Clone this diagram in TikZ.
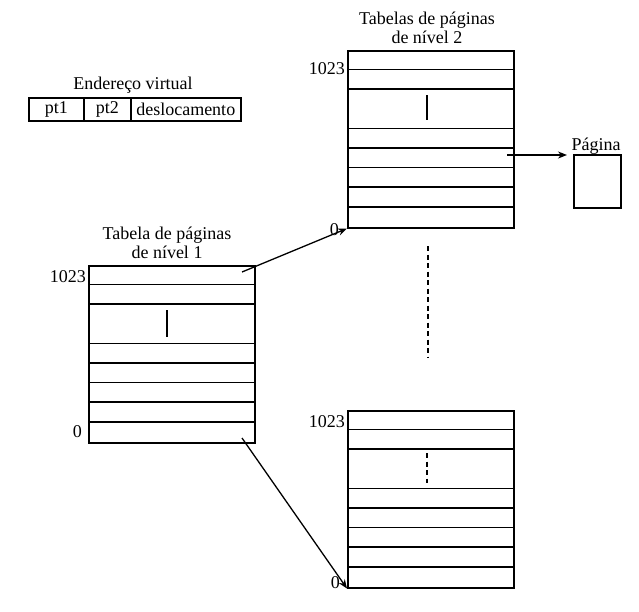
\documentclass[tikz,border=0pt]{standalone}
\usepackage{fontspec}
\setmainfont{Liberation Serif}
\usetikzlibrary{arrows.meta}

\begin{document}
\begin{tikzpicture}[x=1pt,y=-1pt,
  txt/.style={font=\fontsize{18}{19.5}\selectfont,inner sep=0pt,align=center},
  tab/.style={draw,line width=1.5pt,anchor=north west,inner sep=0pt,minimum width=166pt,minimum height=177pt},
  row/.style={line width=1.8pt},
  cell/.style={txt,draw,line width=1.5pt,minimum height=23pt,anchor=north west},
  ptr/.style={-{Stealth[length=9pt,width=7pt]},line width=1.3pt},
  gap/.style={line width=1.2pt,dash pattern=on 5pt off 3.5pt}]
\useasboundingbox (0,0) rectangle (639,611);

% Virtual address
\node[txt] (endtit) at (133,85) {Endereço virtual};
\node[cell,minimum width=55pt] (pt1) at (28,97) {pt1};
\node[cell,minimum width=47pt] (pt2) at (83,97) {pt2};
\node[cell,minimum width=110pt] (desl) at (130,97) {deslocamento};

% Tables with their rows
\foreach \t/\x/\y in {l1/88/265,t2/347/50,b2/347/410}{
  \node[tab] (\t) at (\x,\y) {};
  \foreach \d in {19.5,39,78.5,98,117.5,137,157}
    \draw[row] (\x,\y+\d) -- (\x+166,\y+\d);
}

% Titles
\node[txt] (l1tit) at (167,243) {Tabela de páginas\\de nível 1};
\node[txt] (t2tit) at (427,28) {Tabelas de páginas\\de nível 2};

% Entry numbers
\node[txt,anchor=east] (l1hi) at (86,277) {1023};
\node[txt,anchor=east] (l1lo) at (82,432) {0};
\node[txt,anchor=east] (t2hi) at (345,69) {1023};
\node[txt,anchor=east] (t2lo) at (339,230) {0};
\node[txt,anchor=east] (b2hi) at (345,422) {1023};
\node[txt,anchor=east] (b2lo) at (340,583) {0};

% Skipped entries
\draw[line width=1.6pt] (167,310) -- (167,337);
\draw[line width=1.6pt] (427,95) -- (427,120);
\draw[gap] (427,453) -- (427,483);
\draw[gap] (428,246) -- (428,357);

% Page
\node[draw,line width=1.5pt,inner sep=0pt,minimum width=47pt,minimum height=53pt,anchor=north west] (pag) at (573,154) {};
\node[txt,anchor=base] (pagtit) at (596,150) {Página};

% Pointers
\coordinate (l1top) at (242,272);
\coordinate (l1bot) at (242,438);
\coordinate (t2pg) at (507,155);
\draw[ptr] (l1top) -- (t2.south west);
\draw[ptr] (l1bot) -- (b2.south west);
\draw[ptr,shorten >=6pt] (t2pg) -- (pag.west |- t2pg);
\end{tikzpicture}
\end{document}
